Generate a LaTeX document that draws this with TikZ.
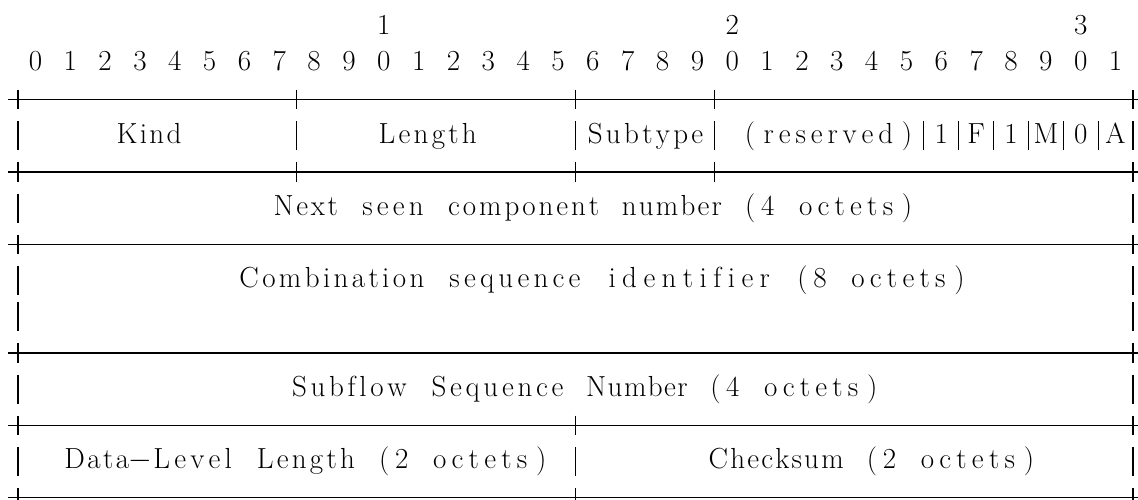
\documentclass[tikz,border=0pt]{standalone}
\usepackage{tikz}
\makeatletter
\newcount\fc@n
\def\fc@word{}
\newcommand{\fcminus}{$-$}
\newcommand{\fc@flush}{%
  \ifnum\fc@n>0
    \dimen@=0.6em \multiply\dimen@\fc@n
    \hbox to\dimen@{\fc@word\hss}%
  \fi
  \fc@n=0 \def\fc@word{}}
\newcommand{\fixcols}[1]{%
  \fc@n=0 \def\fc@word{}%
  \@tfor\fc@ch:=#1\do{%
    \expandafter\ifcat\expandafter\noexpand\fc@ch a%
      \advance\fc@n by 1
      \edef\fc@word{\unexpanded\expandafter{\fc@word}\noexpand\hss\fc@ch}%
    \else
      \fc@flush
      \hbox to 0.6em{\hss\fc@ch\hss}%
    \fi}%
  \fc@flush}
\makeatother

\begin{document}
\begin{tikzpicture}[
  x=0.3484cm, y=-0.724cm,
  font=\fontsize{16.53}{19.8}\selectfont,
  rule/.style={line width=0.66pt},
  digit/.style={anchor=base, inner sep=0pt},
  field/.style={anchor=base west, inner sep=0pt}
]
\useasboundingbox (-1.033,-0.950) rectangle (64.29,12.834);

% Bit numbers
\node[digit] (tens1) at (21,0) {1};
\node[digit] (tens2) at (41,0) {2};
\node[digit] (tens3) at (61,0) {3};
\foreach \i in {0,...,31} {
  \pgfmathtruncatemacro{\d}{mod(\i,10)}
  \node[digit] (bit\i) at ({2*\i+1},1) {\d};
}

% Horizontal rules with + ticks
\foreach \row/\ticks in {2/{0,16,32,40,64}, 4/{0,16,32,40,64}, 6/{0,64}, 9/{0,64}, 11/{0,32,64}, 13/{0,32,64}} {
  \draw[rule] (-0.555,\row-0.2) -- (64.555,\row-0.2);
  \foreach \c in \ticks
    \draw[rule] (\c,\row-0.467) -- (\c,\row+0.067);
}

% Vertical bars
\foreach \row/\bars in {3/{0,16,32,40,52,54,56,58,60,62,64}, 5/{0,64}, 7/{0,64}, 8/{0,64}, 10/{0,64}, 12/{0,32,64}} {
  \foreach \c in \bars
    \draw[rule] (\c,\row-0.6) -- (\c,\row+0.2);
}

% First word
\node[field] (kind) at (5.5,3) {\fixcols{Kind}};
\node[field] (length) at (20.5,3) {\fixcols{Length}};
\node[field] (subtype) at (32.5,3) {\fixcols{Subtype}};
\node[field] (reserved) at (41.5,3) {\fixcols{(reserved)}};
\foreach \c/\f in {53/1,55/F,57/1,59/M,61/0,63/A}
  \node[digit] (flag\c) at (\c,3) {\f};

% Long fields
\node[field] (nextseen) at (14.5,5) {\fixcols{Next~seen~component~number~(4~octets)}};
\node[field] (combseq) at (12.5,7) {\fixcols{Combination~sequence~identifier~(8~octets)}};
\node[field] (subflow) at (15.5,10) {\fixcols{Subflow~Sequence~Number~(4~octets)}};

% Last word
\node[field] (datalen) at (2.5,12) {\fixcols{Data\fcminus Level~Length~(2~octets)}};
\node[field] (checksum) at (39.5,12) {\fixcols{Checksum~(2~octets)}};

\end{tikzpicture}
\end{document}
